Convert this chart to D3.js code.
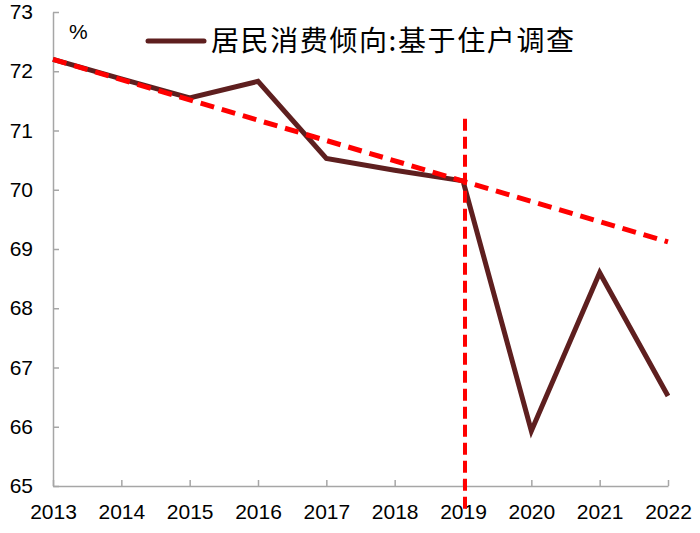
<!DOCTYPE html>
<html>
<head>
<meta charset="utf-8">
<script src="https://cdn.jsdelivr.net/npm/d3@7"></script>
<style>
  body { margin: 0; background: #fff; }
  svg text { font-family: "Liberation Sans", Arial, sans-serif; }
</style>
</head>
<body>
<svg id="chart" width="700" height="533"></svg>
<script>
// data
const years = [2013, 2014, 2015, 2016, 2017, 2018, 2019, 2020, 2021, 2022];
const propensity = [72.2, 71.87, 71.55, 71.83, 70.53, 70.33, 70.15, 65.93, 68.6, 66.52];
const trendYears = [2013, 2022];
const trendValues = [72.2, 69.12];
const markYear = 2019;
const markRange = [71.2, 64.55];
const yTicks = [65, 66, 67, 68, 69, 70, 71, 72, 73];
const seriesName = "居民消费倾向:基于住户调查";

const svg = d3.select('#chart');

const x = d3.scaleLinear().domain([2013, 2022]).range([53, 668]);
const y = d3.scaleLinear().domain([65, 73]).range([486, 12]);

// axes
const axisColor = "#a6a6a6";

const xAxis = svg.append('g')
  .attr('transform', `translate(0,${y(65)})`)
  .call(d3.axisBottom(x).tickValues(years).tickFormat(d3.format('d')).tickSizeInner(-6).tickSizeOuter(0).tickPadding(18));
xAxis.select('.domain').attr('stroke', axisColor).attr('stroke-width', 1.5);
xAxis.selectAll('.tick line').attr('stroke', axisColor).attr('stroke-width', 1.5);
xAxis.selectAll('.tick text').attr('fill', '#000').style('font-size', '21px');

const yAxis = svg.append('g')
  .attr('transform', `translate(${x(2013)},0)`)
  .call(d3.axisLeft(y).tickValues(yTicks).tickSizeInner(-6).tickSizeOuter(0).tickPadding(20));
yAxis.select('.domain').attr('stroke', axisColor).attr('stroke-width', 1.5);
yAxis.selectAll('.tick line').attr('stroke', axisColor).attr('stroke-width', 1.5);
yAxis.selectAll('.tick text').attr('fill', '#000').style('font-size', '21px');

svg.append('text')
  .attr('x', 69)
  .attr('y', 39)
  .style('font-size', '21px')
  .text('%');

// main series
const line = d3.line()
  .x((d, i) => x(years[i]))
  .y(d => y(d));

svg.append('path')
  .datum(propensity)
  .attr('fill', 'none')
  .attr('stroke', '#5e1f1f')
  .attr('stroke-width', 5)
  .attr('d', line);

// trend line
const trendLine = d3.line()
  .x((d, i) => x(trendYears[i]))
  .y(d => y(d));

svg.append('path')
  .datum(trendValues)
  .attr('fill', 'none')
  .attr('stroke', '#ff0000')
  .attr('stroke-width', 5)
  .attr('stroke-dasharray', '14,8')
  .attr('d', trendLine);

// vertical marker at 2019
svg.append('line')
  .attr('x1', x(markYear) + 2)
  .attr('x2', x(markYear) + 2)
  .attr('y1', y(markRange[0]))
  .attr('y2', y(markRange[1]))
  .attr('stroke', '#ff0000')
  .attr('stroke-width', 4)
  .attr('stroke-dasharray', '12,6');

// legend
svg.append('line')
  .attr('x1', 148).attr('x2', 204)
  .attr('y1', 41).attr('y2', 41)
  .attr('stroke', '#5e1f1f')
  .attr('stroke-width', 5)
  .attr('stroke-linecap', 'round');

svg.append('text')
  .attr('x', 211)
  .attr('y', 51)
  .style('font-family', '"Noto Sans CJK SC", sans-serif')
  .style('font-size', '28px')
  .style('letter-spacing', '1.6px')
  .text(seriesName);
</script>
</body>
</html>
